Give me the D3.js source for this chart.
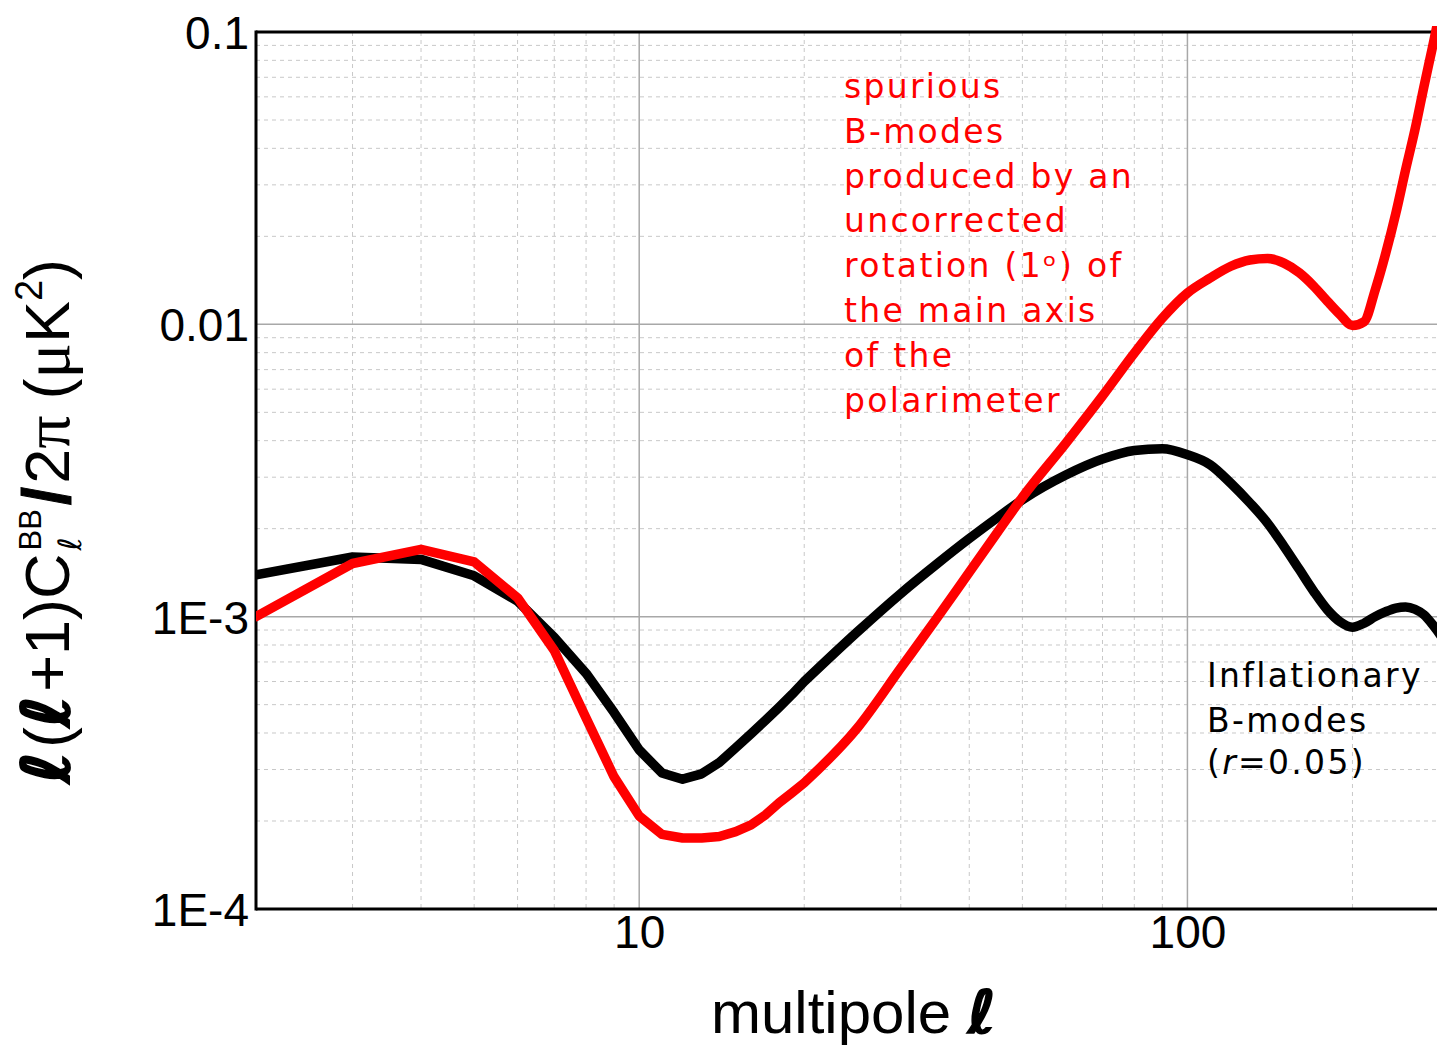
<!DOCTYPE html>
<html>
<head>
<meta charset="utf-8">
<script src="https://cdn.jsdelivr.net/npm/d3@7"></script>
<style>
  html, body { margin: 0; padding: 0; background: #fff; overflow: hidden; }
  svg { display: block; }
</style>
</head>
<body>
<svg id="chart" width="1437" height="1049"></svg>
<script>
// Multipoles: every integer up to 20, then a coarser sampling of the smooth part
const multipoles = [
  2, 3, 4, 5, 6, 7, 8, 9, 10, 11, 12, 13, 14, 15, 16, 17, 18, 19, 20,
  25, 30, 35, 40, 45, 50,
  60, 70, 80, 90, 100, 110, 120, 130, 140, 150, 160, 170, 180, 190, 200,
  210, 220, 230, 240, 250, 260, 270, 280, 290, 300
];

// Inflationary B-mode spectrum, r = 0.05 (µK^2)
const inflationaryBB = [
  1.39e-3, 1.60e-3, 1.57e-3, 1.38e-3, 1.13e-3, 8.5e-4, 6.4e-4, 4.7e-4, 3.5e-4, 2.92e-4,
  2.78e-4, 2.90e-4, 3.17e-4, 3.56e-4, 3.98e-4, 4.42e-4, 4.9e-4, 5.42e-4, 6.0e-4,
  8.87e-4, 1.20e-3, 1.52e-3, 1.85e-3, 2.18e-3, 2.51e-3,
  3.05e-3, 3.46e-3, 3.70e-3, 3.75e-3, 3.58e-3, 3.31e-3, 2.86e-3, 2.45e-3, 2.09e-3, 1.74e-3,
  1.45e-3, 1.22e-3, 1.056e-3, 9.6e-4, 9.2e-4,
  9.5e-4, 1.0e-3, 1.04e-3, 1.07e-3, 1.08e-3, 1.06e-3, 1.015e-3, 9.4e-4, 8.6e-4, 7.8e-4
];

// Spurious B-modes leaked by a 1 degree polarimeter rotation (µK^2)
const rotationBB = [
  1.0e-3, 1.52e-3, 1.70e-3, 1.54e-3, 1.16e-3, 7.66e-4, 4.5e-4, 2.83e-4, 2.08e-4, 1.80e-4,
  1.75e-4, 1.75e-4, 1.77e-4, 1.84e-4, 1.94e-4, 2.10e-4, 2.31e-4, 2.50e-4, 2.70e-4,
  4.16e-4, 6.67e-4, 9.95e-4, 1.42e-3, 1.94e-3, 2.56e-3,
  3.92e-3, 5.69e-3, 7.97e-3, 1.05e-2, 1.28e-2, 1.44e-2, 1.58e-2, 1.66e-2, 1.68e-2, 1.62e-2,
  1.50e-2, 1.35e-2, 1.20e-2, 1.078e-2, 9.9e-3,
  1.02e-2, 1.31e-2, 1.75e-2, 2.40e-2, 3.38e-2, 4.63e-2, 6.5e-2, 8.9e-2, 0.122, 0.166
];

const xTickValues = [10, 100];
const xTickLabels = ["10", "100"];
const yTickValues = [1e-4, 1e-3, 1e-2, 1e-1];
const yTickLabels = ["1E-4", "1E-3", "0.01", "0.1"];

const rotationNote = [
  "spurious", "B-modes", "produced by an", "uncorrected",
  "rotation (1\u1d52) of", "the main axis", "of the", "polarimeter"
];
const inflationNote = ["Inflationary", "B-modes"];

const svg = d3.select("#chart");
const plotLeft = 256, plotTop = 32, plotBottom = 909, plotRight = 1449;

const x = d3.scaleLog().domain([2, 300]).range([plotLeft, plotRight]);
const y = d3.scaleLog().domain([1e-4, 0.1]).range([plotBottom, plotTop]);

// ---- grid ----
const minorX = [], minorY = [];
[1, 10, 100].forEach(d => d3.range(2, 10).forEach(k => {
  const v = k * d;
  if (v > 2 && v <= 300) minorX.push(v);
}));
[1e-4, 1e-3, 1e-2].forEach(d => d3.range(2, 10).forEach(k => minorY.push(k * d)));

const grid = svg.append("g");
grid.selectAll(".mx").data(minorX).join("line")
  .attr("x1", d => x(d)).attr("x2", d => x(d)).attr("y1", plotTop).attr("y2", plotBottom)
  .attr("stroke", "#c8c8c8").attr("stroke-width", 1).attr("stroke-dasharray", "4,4");
grid.selectAll(".my").data(minorY).join("line")
  .attr("x1", plotLeft).attr("x2", plotRight).attr("y1", d => y(d)).attr("y2", d => y(d))
  .attr("stroke", "#c8c8c8").attr("stroke-width", 1).attr("stroke-dasharray", "4,4");
grid.selectAll(".Mx").data(xTickValues).join("line")
  .attr("x1", d => x(d)).attr("x2", d => x(d)).attr("y1", plotTop).attr("y2", plotBottom)
  .attr("stroke", "#a8a8a8").attr("stroke-width", 1.5);
grid.selectAll(".My").data([1e-3, 1e-2]).join("line")
  .attr("x1", plotLeft).attr("x2", plotRight).attr("y1", d => y(d)).attr("y2", d => y(d))
  .attr("stroke", "#a8a8a8").attr("stroke-width", 1.5);

// ---- annotations ----
const note = svg.append("g")
  .style("font-family", "'DejaVu Sans', Verdana, sans-serif")
  .style("font-size", "33px")
  .style("letter-spacing", "2.3px");
note.selectAll(".rn").data(rotationNote).join("text")
  .attr("x", 844).attr("y", (d, i) => 98 + i * 44.8)
  .attr("fill", "#ff0000").text(d => d);
note.selectAll(".in").data(inflationNote).join("text")
  .attr("x", 1207).attr("y", (d, i) => 687 + i * 45)
  .attr("fill", "#000").text(d => d);
const rLine = note.append("text").attr("x", 1207).attr("y", 774).attr("fill", "#000");
rLine.append("tspan").text("(");
rLine.append("tspan").style("font-style", "italic").text("r");
rLine.append("tspan").text("=0.05)");

// ---- frame ----
const frame = svg.append("g").attr("stroke", "#000").attr("stroke-width", 3).attr("fill", "none");
frame.append("line").attr("x1", plotLeft).attr("x2", plotRight).attr("y1", plotTop).attr("y2", plotTop);
frame.append("line").attr("x1", plotLeft).attr("x2", plotRight).attr("y1", plotBottom).attr("y2", plotBottom);
frame.append("line").attr("x1", plotLeft).attr("x2", plotLeft).attr("y1", plotTop - 1.5).attr("y2", plotBottom + 1.5);

// ---- axes (labels only) ----
const tickFont = "'Liberation Sans', Arial, sans-serif";
const yAxis = svg.append("g").attr("transform", `translate(${plotLeft},0)`)
  .call(d3.axisLeft(y).tickValues(yTickValues)
    .tickFormat((d, i) => yTickLabels[i]).tickSize(0).tickPadding(7));
yAxis.select(".domain").remove();
yAxis.selectAll("text").style("font-family", tickFont).style("font-size", "46px")
  .attr("fill", "#000").attr("dy", "0.36em");

const xAxis = svg.append("g").attr("transform", `translate(0,${plotBottom})`)
  .call(d3.axisBottom(x).tickValues(xTickValues)
    .tickFormat((d, i) => xTickLabels[i]).tickSize(0).tickPadding(6));
xAxis.select(".domain").remove();
xAxis.selectAll("text").style("font-family", tickFont).style("font-size", "46px")
  .attr("fill", "#000");

// ---- curves ----
svg.append("clipPath").attr("id", "plot-clip").append("rect")
  .attr("x", plotLeft).attr("y", plotTop - 6)
  .attr("width", plotRight - plotLeft).attr("height", plotBottom - plotTop + 6);

function seriesPath(values) {
  const pts = multipoles.map((l, i) => ({ l, v: values[i] }));
  const low = pts.filter(p => p.l <= 20);
  const high = pts.filter(p => p.l >= 20);
  const lin = d3.line().x(p => x(p.l)).y(p => y(p.v)).curve(d3.curveLinear);
  const smooth = d3.line().x(p => x(p.l)).y(p => y(p.v)).curve(d3.curveMonotoneX);
  return lin(low) + smooth(high).replace(/^M/, "L");
}

const curves = svg.append("g").attr("clip-path", "url(#plot-clip)")
  .attr("fill", "none").attr("stroke-width", 9.5)
  .attr("stroke-linejoin", "round").attr("stroke-linecap", "round");
curves.append("path").attr("d", seriesPath(inflationaryBB)).attr("stroke", "#000");
curves.append("path").attr("d", seriesPath(rotationBB)).attr("stroke", "#ff0000");

// ---- axis titles ----
const sans = "'Liberation Sans', Arial, sans-serif";
const ellFont = "'DejaVu Serif', 'DejaVu Sans', serif";

const xt = svg.append("text").attr("x", 711).attr("y", 1033)
  .style("font-family", sans).style("font-size", "60px").attr("fill", "#000");
xt.append("tspan").text("multipole ");
xt.append("tspan").style("font-family", ellFont).style("font-weight", "bold")
  .style("font-style", "italic").style("font-size", "60px")
  .attr("stroke", "#000").attr("stroke-width", 1.5).text("\u2113");

// y title assembled piece by piece along a rotated baseline
const yt = svg.append("g");
let cx = 0;
function piece(txt, o) {
  const el = yt.append("text").attr("x", cx + (o.dx || 0)).attr("y", o.dy || 0)
    .style("font-family", o.font || sans).style("font-size", (o.size || 63) + "px")
    .style("font-weight", o.weight || "normal").style("font-style", o.style || "normal")
    .attr("fill", "#000").text(txt);
  if (o.thick) el.attr("stroke", "#000").attr("stroke-width", o.thick);
  const w = el.node().getComputedTextLength() + (o.dx || 0);
  if (!o.stack) cx += w + (o.gap || 0);
  return w;
}
piece("\u2113", { font: ellFont, weight: "bold", style: "italic", size: 66, thick: 2, gap: 4 });
piece("(", {});
piece("\u2113", { font: ellFont, weight: "bold", style: "italic", size: 66, thick: 2, gap: 4 });
piece("+1)C", { gap: 3 });
const wSup = piece("BB", { size: 31, dy: -28, stack: true });
const wSub = piece("\u2113", { font: ellFont, style: "italic", size: 32, dy: 12, stack: true });
cx += Math.max(wSup, wSub) + 4;
piece("/", { weight: "bold", size: 66, thick: 1, gap: 3 });
piece("2", {});
piece("\u03c0", { font: "'Liberation Serif', serif", size: 66, gap: 16 });
piece("(", {});
piece("\u03bc", { font: "'Liberation Serif', serif", size: 66 });
piece("K", {});
piece("2", { size: 38, dy: -27 });
piece(")", {});
yt.attr("transform", `translate(69,${521 + cx / 2}) rotate(-90)`);
</script>
</body>
</html>
